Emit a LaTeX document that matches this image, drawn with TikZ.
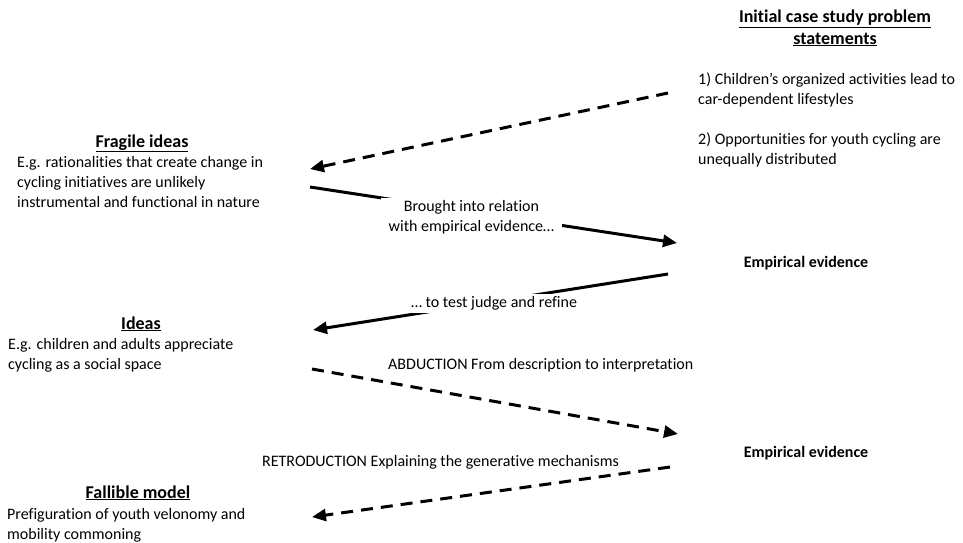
\documentclass[tikz,border=0pt]{standalone}
\usepackage{fontspec}
\setmainfont{Carlito}[Ligatures=NoCommon]
\usetikzlibrary{arrows.meta}
\begin{document}
\begin{tikzpicture}[x=1pt,y=-1pt,
  every node/.style={inner sep=0pt, font=\fontsize{16}{20}\selectfont},
  heading/.style={anchor=base, align=center, font=\fontsize{18}{21.5}\selectfont\bfseries},
  body/.style={anchor=base west, align=left},
  evidence/.style={anchor=base, font=\fontsize{16}{20}\selectfont\bfseries},
  note/.style={anchor=base west},
  link/.style={line width=3pt, -{Triangle[length=14pt,width=12pt]}},
  dashlink/.style={link, dash pattern=on 12pt off 8pt},
  cut/.style={fill=white, inner xsep=8pt, inner ysep=3pt, align=center}]
\useasboundingbox (0,0) rectangle (963,542);

% problem statements (top right); multi-line nodes sit on their last baseline
\node[heading] (initT) at (835,44) {\underline{Initial case study problem}\\\underline{statements}};
\node[body] (initB) at (698,164) {1) Children’s organized activities lead to\\car-dependent lifestyles\\[20pt]2) Opportunities for youth cycling are\\unequally distributed};

% left column
\node[heading] (fragT) at (142,147) {\underline{Fragile ideas}};
\node[body] (fragB) at (17,207) {E.g. rationalities that create change in\\cycling initiatives are unlikely\\instrumental and functional in nature};

\node[heading] (ideaT) at (141,329) {\underline{Ideas}};
\node[body] (ideaB) at (8,369) {E.g. children and adults appreciate\\cycling as a social space};

\node[heading] (fallT) at (138,498) {\underline{Fallible model}};
\node[body] (fallB) at (7,539) {Prefiguration of youth velonomy and\\mobility commoning};

% right column
\node[evidence] (ev1) at (806,267) {Empirical evidence};
\node[evidence] (ev2) at (806,457) {Empirical evidence};

% connector end points
\coordinate (a1s) at (668,93);  \coordinate (a1e) at (310,169);
\coordinate (a2s) at (310,187); \coordinate (a2e) at (677,243);
\coordinate (a3s) at (668,274); \coordinate (a3e) at (313,330);
\coordinate (a4s) at (312,369); \coordinate (a4e) at (678,434);
\coordinate (a5s) at (670,467); \coordinate (a5e) at (312,517);

% connectors
\draw[dashlink] (a1s) -- (a1e);
\draw[link] (a2s) -- node[cut, pos=0.44, yshift=-6pt] (lab2) {Brought into relation\\with empirical evidence…} (a2e);
\draw[link] (a3s) -- node[cut, pos=0.49, yshift=-2pt] (lab3) {… to test judge and refine} (a3e);
\draw[dashlink] (a4s) -- (a4e);
\draw[dashlink] (a5s) -- (a5e);

% step labels
\node[note] (abd) at (388,369) {ABDUCTION From description to interpretation};
\node[note] (ret) at (262,466) {RETRODUCTION Explaining the generative mechanisms};
\end{tikzpicture}
\end{document}
